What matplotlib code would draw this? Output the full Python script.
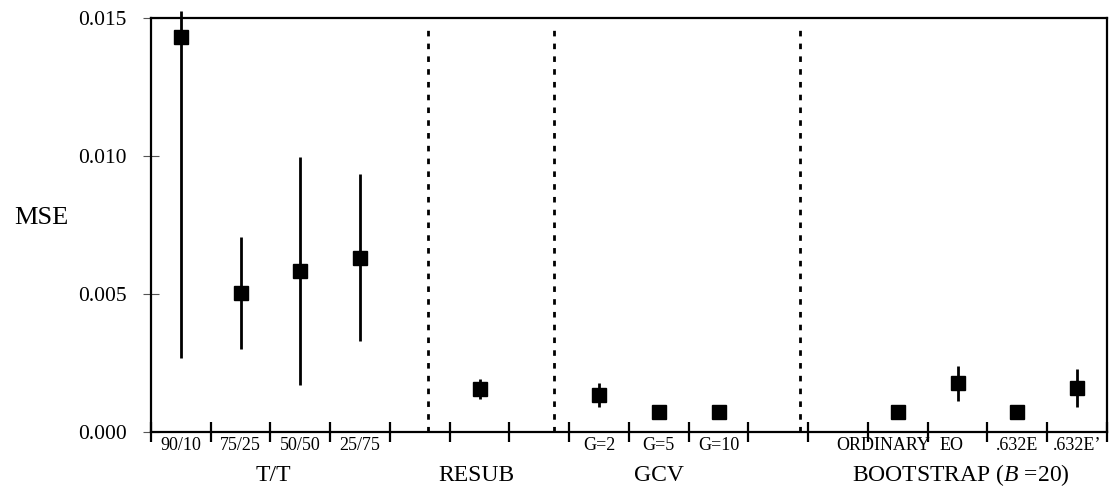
import matplotlib
matplotlib.use("Agg")
import matplotlib.pyplot as plt
import matplotlib.transforms as mtransforms
import numpy as np

plt.rcParams['font.family'] = ['Liberation Serif', 'DejaVu Serif']
plt.rcParams['mathtext.fontset'] = 'custom'
plt.rcParams['mathtext.rm'] = 'Liberation Serif'
plt.rcParams['mathtext.it'] = 'Liberation Serif:italic'

# ---- data ----
methods = ["90/10", "75/25", "50/50", "25/75", "RESUB", "G=2", "G=5", "G=10",
           "ORDINARY", "EO", ".632E", ".632E'"]
positions = [0.5, 1.5, 2.5, 3.5, 5.5, 7.5, 8.5, 9.5, 12.5, 13.5, 14.5, 15.5]
mse = [0.01432, 0.00502, 0.00582, 0.00632, 0.00155, 0.00134, 0.00071, 0.00071,
       0.00071, 0.00176, 0.00071, 0.00158]
mse_low = [0.00268, 0.00301, 0.00170, 0.00330, 0.00120, 0.00089, 0.00071, 0.00071,
           0.00071, 0.00113, 0.00071, 0.00092]
mse_high = [0.01525, 0.00705, 0.00995, 0.00934, 0.00192, 0.00176, 0.00071, 0.00071,
            0.00071, 0.00239, 0.00071, 0.00227]

small_labels = ["90/10", "75/25", "50/50", "25/75", "G=2", "G=5", "G=10",
                "ORDINARY", "EO", ".632E", ".632E\u2019"]
small_label_x = [0.5, 1.5, 2.5, 3.5, 7.5, 8.5, 9.5, 12.25, 13.4, 14.5, 15.5]

groups = ["T/T", "RESUB", "GCV", "BOOTSTRAP ($\\mathit{B}$ =20)"]
group_x = [2.05, 5.45, 8.5, 13.55]

separators = [4.64, 6.75, 10.86]
yticks = [0.000, 0.005, 0.010, 0.015]
ytick_labels = ["0.000", "0.005", "0.010", "0.015"]

# ---- figure ----
fig = plt.figure(figsize=(11.11, 4.91), dpi=100)
ax = fig.add_axes([0.1359, 0.1202, 0.8605, 0.8431])

ax.set_xlim(0, 16)
ax.set_ylim(0, 0.015)

yerr = np.array([np.array(mse) - np.array(mse_low), np.array(mse_high) - np.array(mse)])
ax.errorbar(positions, mse, yerr=yerr, fmt='s', color='black', ecolor='black',
            elinewidth=2.0, markersize=10, capsize=0, clip_on=False, zorder=3)

for xs in separators:
    ax.axvline(xs, ymin=0, ymax=0.985, color='black', linewidth=2.0,
               linestyle=(0, (2.0, 2.6)), zorder=2)

for sp in ax.spines.values():
    sp.set_linewidth(1.6)

ax.set_xticks(np.arange(0, 17))
ax.set_xticklabels([])
ax.tick_params(axis='x', direction='inout', length=14, width=1.6, color='black')

ax.set_yticks(yticks)
ax.set_yticklabels(ytick_labels, fontsize=15.5)
ax.tick_params(axis='y', direction='inout', length=11, width=0.8, color='#555555', pad=12)

trans = mtransforms.blended_transform_factory(ax.transData, ax.transAxes)
for lab, x in zip(small_labels, small_label_x):
    ax.text(x, -0.032, lab, transform=trans, ha='center', va='center', fontsize=13)
for lab, x in zip(groups, group_x):
    ax.text(x, -0.104, lab, transform=trans, ha='center', va='center', fontsize=17)

ax.text(-0.115, 0.517, "MSE", transform=ax.transAxes, ha='center', va='center', fontsize=19)

fig.savefig("out.png", dpi=100)
